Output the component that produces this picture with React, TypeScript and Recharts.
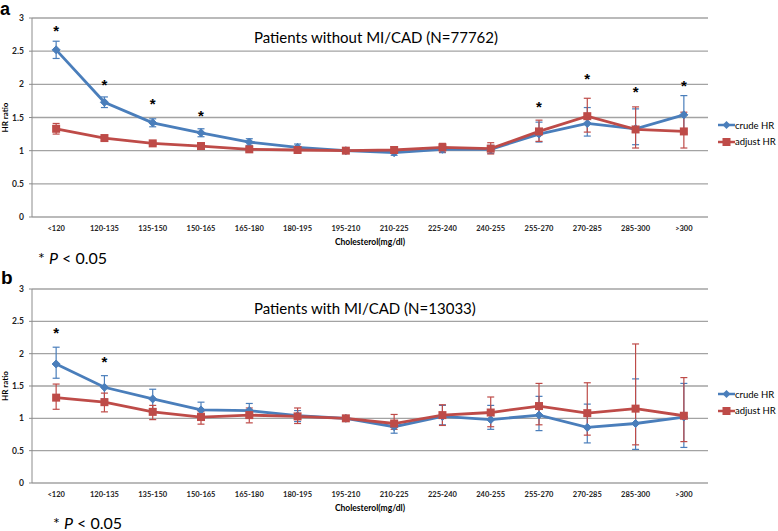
import React from "react";
import { CartesianGrid, ErrorBar, Line, LineChart, XAxis, YAxis } from "recharts";

// HR by cholesterol band (a: without MI/CAD, b: with MI/CAD)
const categories = [
  "<120", "120-135", "135-150", "150-165", "165-180", "180-195", "195-210",
  "210-225", "225-240", "240-255", "255-270", "270-285", "285-300", ">300",
];
const yTicks = [0, 0.5, 1, 1.5, 2, 2.5, 3];

// panel a
const crudeA = [2.52, 1.73, 1.42, 1.27, 1.13, 1.05, 1.0, 0.97, 1.02, 1.02, 1.25, 1.41, 1.33, 1.54];
const crudeALo = [2.39, 1.65, 1.36, 1.21, 1.08, 1.01, 0.99, 0.93, 0.97, 0.96, 1.13, 1.22, 1.09, 1.26];
const crudeAHi = [2.65, 1.81, 1.48, 1.33, 1.18, 1.1, 1.01, 1.01, 1.07, 1.08, 1.43, 1.65, 1.63, 1.83];
const adjA = [1.33, 1.19, 1.11, 1.07, 1.02, 1.01, 1.0, 1.01, 1.05, 1.03, 1.29, 1.52, 1.32, 1.29];
const adjALo = [1.25, 1.15, 1.08, 1.04, 0.99, 0.98, 1.0, 0.96, 0.98, 0.95, 1.14, 1.28, 1.04, 1.04];
const adjAHi = [1.41, 1.23, 1.14, 1.1, 1.05, 1.04, 1.0, 1.06, 1.11, 1.12, 1.46, 1.79, 1.66, 1.58];
const sigA = [2.83, 2.02, 1.73, 1.55, null, null, null, null, null, null, 1.68, 2.1, 1.91, 2.0];

// panel b
const crudeB = [1.84, 1.48, 1.3, 1.13, 1.12, 1.04, 1.0, 0.87, 1.03, 0.98, 1.05, 0.86, 0.92, 1.02];
const crudeBLo = [1.62, 1.3, 1.15, 1.0, 1.01, 0.95, 0.99, 0.77, 0.9, 0.83, 0.81, 0.62, 0.52, 0.55];
const crudeBHi = [2.1, 1.66, 1.45, 1.25, 1.23, 1.12, 1.01, 0.95, 1.2, 1.2, 1.34, 1.22, 1.61, 1.54];
const adjB = [1.32, 1.25, 1.1, 1.02, 1.05, 1.03, 1.0, 0.92, 1.05, 1.09, 1.19, 1.08, 1.15, 1.04];
const adjBLo = [1.14, 1.1, 0.98, 0.91, 0.93, 0.92, 1.0, 0.83, 0.89, 0.87, 0.9, 0.74, 0.59, 0.64];
const adjBHi = [1.53, 1.39, 1.2, 1.1, 1.16, 1.16, 1.0, 1.06, 1.21, 1.33, 1.54, 1.55, 2.15, 1.63];
const sigB = [2.34, 1.89, null, null, null, null, null, null, null, null, null, null, null, null];

const BLUE = "#4A7EBB";
const RED = "#BE4B48";
const AXIS = "#8c8c8c";
const FONT = "Lato, 'Open Sans', sans-serif";

function buildRows(
  crude: number[], crudeLo: number[], crudeHi: number[],
  adj: number[], adjLo: number[], adjHi: number[],
  sig: (number | null)[],
) {
  return categories.map((cat, i) => ({
    cat,
    crude: crude[i],
    crudeErr: [crude[i] - crudeLo[i], crudeHi[i] - crude[i]],
    adjust: adj[i],
    adjustErr: [adj[i] - adjLo[i], adjHi[i] - adj[i]],
    sig: sig[i],
  }));
}

const boundaries = Array.from({ length: categories.length + 1 }, (_, i) => i);

const diamond = (p: any) => {
  const { cx, cy, index } = p;
  if (cx == null || cy == null) return <g key={`dm-${index}`} />;
  const r = 4;
  return (
    <polygon
      key={`dm-${index}`}
      points={`${cx},${cy - r} ${cx + r},${cy} ${cx},${cy + r} ${cx - r},${cy}`}
      fill={BLUE}
      stroke={BLUE}
    />
  );
};

const square = (p: any) => {
  const { cx, cy, index } = p;
  if (cx == null || cy == null) return <g key={`sq-${index}`} />;
  const r = 4;
  return <rect key={`sq-${index}`} x={cx - r} y={cy - r} width={2 * r} height={2 * r} fill={RED} />;
};

const star = (p: any) => {
  const { cx, cy, index, value } = p;
  if (value == null || cx == null || cy == null) return <g key={`st-${index}`} />;
  return (
    <text key={`st-${index}`} x={cx} y={cy + 6.5} textAnchor="middle" fontSize={15} fontWeight="bold"
      fontFamily="'Liberation Sans', sans-serif" fill="#000">
      *
    </text>
  );
};

function LegendBox({ top }: { top: number }) {
  const row = (color: string, label: string, sq: boolean, y: number) => (
    <div style={{ position: "absolute", left: 718, top: y - 7, height: 14, display: "flex", alignItems: "center", whiteSpace: "nowrap" }}>
      <svg width={17} height={14}>
        <line x1={0} y1={7} x2={17} y2={7} stroke={color} strokeWidth={2.5} />
        {sq ? <rect x={4.5} y={3} width={8} height={8} fill={color} /> : <polygon points="8.5,3 12.5,7 8.5,11 4.5,7" fill={color} />}
      </svg>
      <span style={{ fontFamily: FONT, fontSize: 9.5, color: "#000", marginLeft: 0 }}>{label}</span>
    </div>
  );
  return (
    <>
      {row(BLUE, "crude HR", false, top)}
      {row(RED, "adjust HR", true, top + 16.5)}
    </>
  );
}

function Panel({ rows, top, height, marginTop, marginBottom }: any) {
  return (
    <div style={{ position: "absolute", left: 0, top }}>
      <LineChart width={778} height={height} data={rows} margin={{ top: marginTop, right: 70, bottom: marginBottom, left: 0 }}>
        <CartesianGrid vertical={false} stroke="#a3a3a3" strokeWidth={1.3} />
        <XAxis
          xAxisId="band"
          type="number"
          domain={[0, categories.length]}
          ticks={boundaries}
          interval={0}
          height={0}
          tickSize={4}
          axisLine={{ stroke: AXIS }}
          tickLine={{ stroke: AXIS }}
          tick={() => <g />}
          allowDataOverflow
        />
        <XAxis
          dataKey="cat"
          scale="band"
          height={30}
          axisLine={false}
          tickLine={false}
          tickSize={6}
          tickMargin={3}
          interval={0}
          tick={{ fontSize: 7.5, fontWeight: "bold", fill: "#222", fontFamily: FONT }}
          label={{ value: "Cholesterol(mg/dl)", position: "insideBottom", offset: 2, fontSize: 8.5, fontWeight: "bold", fill: "#000", fontFamily: FONT }}
        />
        <YAxis
          domain={[0, 3]}
          ticks={yTicks}
          width={32}
          tickSize={3}
          tickMargin={5}
          axisLine={{ stroke: AXIS }}
          tickLine={{ stroke: AXIS }}
          tick={{ fontSize: 8.5, fontWeight: "bold", fill: "#222", fontFamily: FONT }}
          label={{ value: "HR ratio", angle: -90, position: "center", dx: -11, fontSize: 8, fontWeight: "bold", fill: "#000", fontFamily: FONT }}
        />
        <Line dataKey="crude" stroke={BLUE} strokeWidth={2.8} dot={diamond} activeDot={false} isAnimationActive={false}>
          <ErrorBar dataKey="crudeErr" direction="y" width={3.5} stroke={BLUE} strokeWidth={1.2} isAnimationActive={false} />
        </Line>
        <Line dataKey="adjust" stroke={RED} strokeWidth={2.8} dot={square} activeDot={false} isAnimationActive={false}>
          <ErrorBar dataKey="adjustErr" direction="y" width={3.5} stroke={RED} strokeWidth={1.2} isAnimationActive={false} />
        </Line>
        <Line dataKey="sig" stroke="none" dot={star} activeDot={false} isAnimationActive={false} />
      </LineChart>
    </div>
  );
}

const textBase: React.CSSProperties = { position: "absolute", fontFamily: FONT, color: "#000", whiteSpace: "nowrap", lineHeight: 1 };

export default function App() {
  const rowsA = buildRows(crudeA, crudeALo, crudeAHi, adjA, adjALo, adjAHi, sigA);
  const rowsB = buildRows(crudeB, crudeBLo, crudeBHi, adjB, adjBLo, adjBHi, sigB);
  return (
    <div style={{ position: "absolute", left: 0, top: 0, width: 778, height: 531, background: "#fff", overflow: "hidden" }}>
      <Panel rows={rowsA} top={0} height={265} marginTop={18} marginBottom={18} />
      <Panel rows={rowsB} top={265} height={266} marginTop={24} marginBottom={18} />

      <LegendBox top={125} />
      <LegendBox top={394} />

      <div style={{ ...textBase, left: 254, top: 30, fontSize: 15 }}>Patients without MI/CAD (N=77762)</div>
      <div style={{ ...textBase, left: 254, top: 301, fontSize: 15 }}>Patients with MI/CAD (N=13033)</div>

      <div style={{ ...textBase, left: 0, top: 0, fontSize: 18, fontWeight: "bold", fontFamily: "'Liberation Sans', sans-serif" }}>a</div>
      <div style={{ ...textBase, left: 1, top: 268, fontSize: 19, fontWeight: "bold", fontFamily: "'Liberation Sans', sans-serif" }}>b</div>

      <div style={{ ...textBase, left: 38, top: 250, fontSize: 16 }}>
        * <i>P</i> &lt; 0.05
      </div>
      <div style={{ ...textBase, left: 53, top: 515, fontSize: 16 }}>
        * <i>P</i> &lt; 0.05
      </div>
    </div>
  );
}
